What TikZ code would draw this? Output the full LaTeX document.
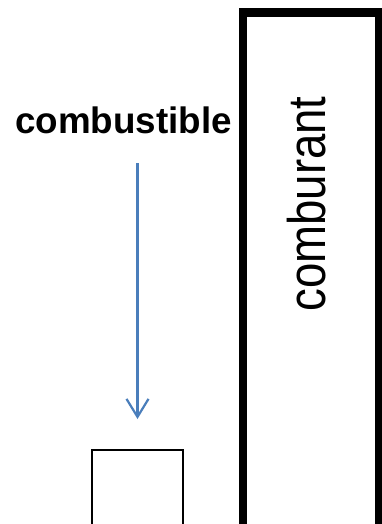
\documentclass[tikz,border=0pt]{standalone}
\usepackage{fontspec}
\setmainfont{Liberation Sans}
\usetikzlibrary{arrows.meta}
\definecolor{arrowblue}{HTML}{4A7EBB}
\tikzset{
  labeltext/.style={inner sep=0pt, anchor=base},
  thickbox/.style={draw=black, line width=8.5pt},
  thinbox/.style={draw=black, line width=1.5pt},
  flowarrow/.style={draw=arrowblue, line width=2.2pt, -{Straight Barb[length=18pt,width=22pt,line width=2.2pt]}}
}
\begin{document}
\begin{tikzpicture}[x=1pt,y=-1pt]
\useasboundingbox (0,0) rectangle (382,524);
\clip (0,0) rectangle (382,524);
\fill[white] (0,0) rectangle (382,524);
\draw[thickbox] (243,12.5) rectangle (379,530);
\draw[thinbox] (92,450) rectangle (183,540);
\node[labeltext] (comb) at (123.5,133.3) {\fontsize{36.8}{40}\selectfont\bfseries combustible};
\node[labeltext, rotate=90] (cbt) at (325,204) {\scalebox{0.86}[1]{\fontsize{53}{56}\selectfont comburant}};
\coordinate (a1) at (137.5,163);
\coordinate (a2) at (137.5,419);
\draw[flowarrow] (a1) -- (a2);
\end{tikzpicture}
\end{document}
